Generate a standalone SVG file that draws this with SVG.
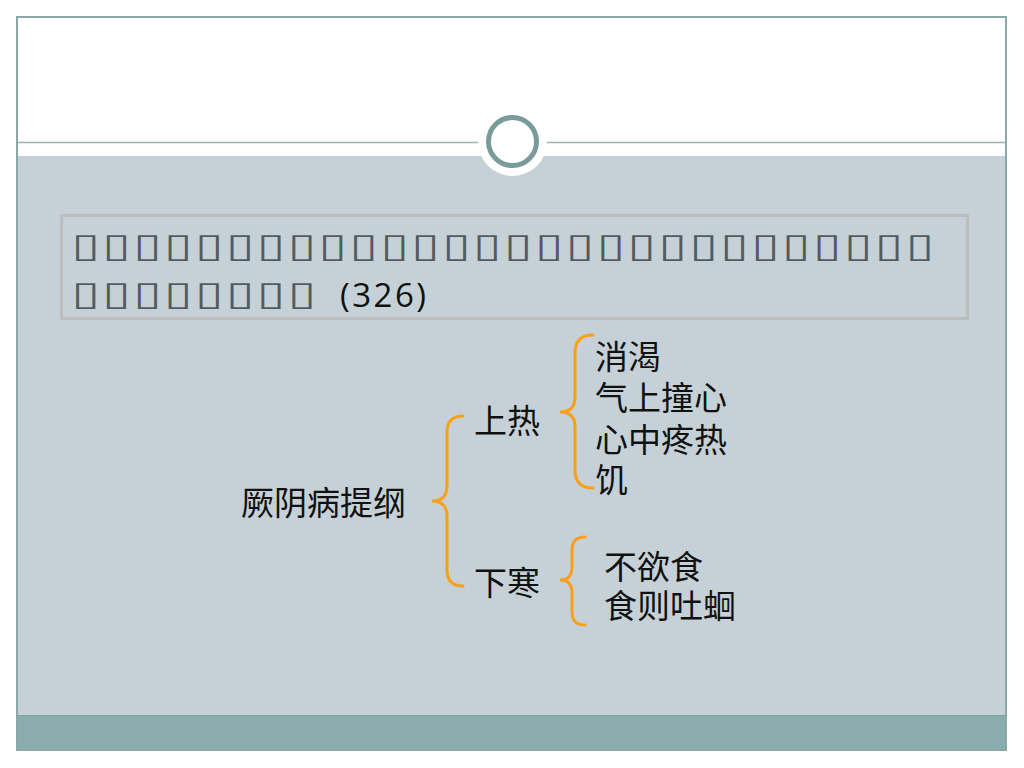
<svg xmlns="http://www.w3.org/2000/svg" width="1024" height="768" viewBox="0 0 1024 768">
<style>
.cjk{font-family:"Noto Sans CJK SC","Noto Sans",sans-serif;font-size:33px;fill:#111}
.tofu{font-family:"DejaVu Sans",sans-serif;font-size:34px;fill:#545b5f}
.num{font-family:"Open Sans","Liberation Sans",sans-serif;font-size:33px;letter-spacing:2.5px;fill:#111}
.brace{fill:none;stroke:#F8A01C;stroke-width:3;stroke-linecap:round}
</style>
<rect width="1024" height="768" fill="#fff"/>
<g id="frame">
<rect x="17" y="156" width="989" height="560" fill="#C5D1D7"/>
<rect x="17" y="715" width="989" height="35" fill="#8BACAC"/>
<line x1="17" y1="715.5" x2="1006" y2="715.5" stroke="#7FA0A0" stroke-width="1"/>
<line x1="17" y1="142.5" x2="1006" y2="142.5" stroke="#9DB5B5" stroke-width="1.5"/>
<rect x="17" y="17" width="989" height="733" fill="none" stroke="#8BA8A8" stroke-width="2"/>
<circle cx="512.5" cy="141.5" r="34.5" fill="#fff"/>
<circle cx="512.5" cy="141.5" r="24" fill="#fff" stroke="#7A9B9B" stroke-width="5"/>
</g>
<g id="textbox">
<rect x="61.5" y="215.5" width="906" height="103" fill="none" stroke="#BDBDBD" stroke-width="3"/>
<text class="tofu" transform="translate(0,256.5) scale(1.5,1)" y="0" x="47.6 68.2 88.8 109.4 130 150.6 171.2 191.8 212.4 233 253.6 274.2 294.8 315.4 336 356.6 377.2 397.8 418.4 439 459.6 480.2 500.8 521.4 542 562.6 583.2 603.8">▯▯▯▯▯▯▯▯▯▯▯▯▯▯▯▯▯▯▯▯▯▯▯▯▯▯▯▯</text>
<text class="tofu" transform="translate(0,304.5) scale(1.5,1)" y="0" x="47.6 68.2 88.8 109.4 130 150.6 171.2 191.8">▯▯▯▯▯▯▯▯</text>
<text class="num" x="340" y="307">(326)</text>
</g>
<g id="root"><text class="cjk" x="241" y="515">厥阴病提纲</text></g>
<g id="upper"><text class="cjk" x="474" y="433">上热</text></g>
<g id="lower"><text class="cjk" x="474" y="595">下寒</text></g>
<g id="upper-items">
<text class="cjk" x="595" y="369">消渴</text>
<text class="cjk" x="595" y="410">气上撞心</text>
<text class="cjk" x="595" y="452">心中疼热</text>
<text class="cjk" x="595" y="492">饥</text>
</g>
<g id="lower-items">
<text class="cjk" x="604" y="579">不欲食</text>
<text class="cjk" x="604" y="618">食则吐蛔</text>
</g>
<g id="connectors">
<path class="brace" d="M463,416 Q447,416 447,432 L447,486 Q447,501 432,501 Q447,501 447,516 L447,570 Q447,586 463,586"/>
<path class="brace" d="M593,335 Q575,335 575,353 L575,397 Q575,412 560,412 Q575,412 575,427 L575,470 Q575,488 593,488"/>
<path class="brace" d="M585,537 Q572,537 572,550 L572,567 Q572,580 560,580 Q572,580 572,593 L572,612 Q572,625 585,625"/>
</g>
</svg>
